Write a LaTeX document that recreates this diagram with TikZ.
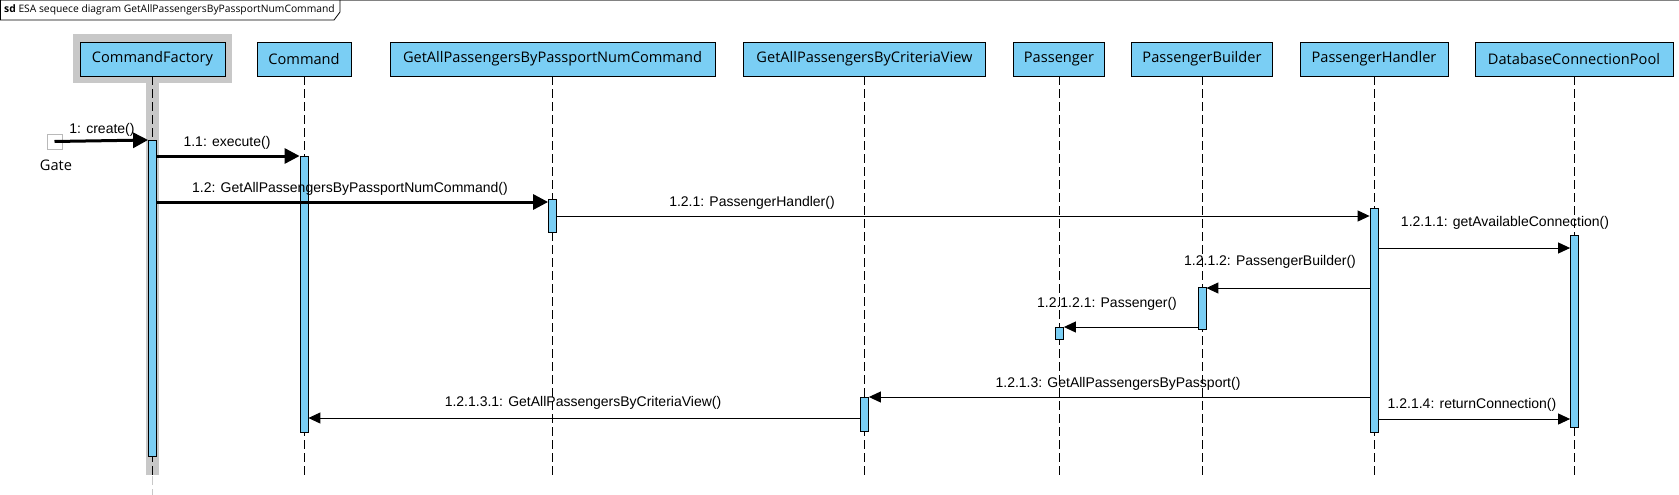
\documentclass[tikz,border=0pt]{standalone}
\usepackage{fontspec}
\setmainfont{Liberation Sans}
\newfontfamily\boxfont{Open Sans}
\usepackage{tikz}
\usetikzlibrary{arrows.meta,calc}
\definecolor{LifeBlue}{RGB}{122,206,244}
\definecolor{Shade}{RGB}{200,200,200}
\definecolor{FrameGrey}{RGB}{130,130,130}
\definecolor{GateGrey}{RGB}{185,185,185}

\begin{document}
\begin{tikzpicture}[x=1pt, y=-1pt,
    lifebox/.style={draw, fill=LifeBlue, line width=0.8pt, minimum height=34pt, inner sep=0pt,
        font=\boxfont\fontsize{14.6}{16}\selectfont},
    actbar/.style={draw, fill=LifeBlue, line width=0.8pt, minimum width=8pt, inner sep=0pt, anchor=north},
    lifeline/.style={line width=0.8pt, dash pattern=on 9pt off 4pt},
    call/.style={line width=3pt, -{Triangle[length=15pt,width=15pt]}},
    msg/.style={line width=1pt, -{Triangle[length=12pt,width=11pt]}},
    msglabel/.style={inner sep=0pt, font=\fontsize{14}{16}\selectfont}]
    %%Background
    \useasboundingbox[fill=white] (0,0) rectangle (1679,495);

    %% Frame
    \draw[FrameGrey, line width=1.2pt] (0,0.6) -- (1679,0.6);
    \draw[line width=0.8pt] (0.4,0) -- (0.4,20) -- (334,20) -- (340,12) -- (340,0);
    \node[anchor=west, inner sep=0pt, font=\boxfont\fontsize{10.3}{12}\selectfont] (title) at (4,10)
        {\textbf{sd} ESA sequece diagram GetAllPassengersByPassportNumCommand};

    %% Selected lifeline shade
    \fill[Shade] (73,34) rectangle (232,83);
    \fill[Shade] (146,83) rectangle (159,475);

    %% Lifeline heads
    \node[lifebox, minimum width=145pt] (cf) at (152.5,59) {CommandFactory};
    \node[lifebox, minimum width=94pt] (cmd) at (304,59) {Command};
    \node[lifebox, minimum width=325pt] (gpn) at (552.5,59) {GetAllPassengersByPassportNumCommand};
    \node[lifebox, minimum width=242pt] (view) at (864.5,59) {GetAllPassengersByCriteriaView};
    \node[lifebox, minimum width=91pt] (pass) at (1059,59) {Passenger};
    \node[lifebox, minimum width=141pt] (pb) at (1202,59) {PassengerBuilder};
    \node[lifebox, minimum width=148pt] (ph) at (1374,59) {PassengerHandler};
    \node[lifebox, minimum width=198pt] (dcp) at (1574,59) {DatabaseConnectionPool};

    %% Lifelines
    \coordinate (lifeend) at (0,476);
    \coordinate (pageend) at (0,495);
    \foreach \n in {cf,cmd,gpn,view,pass,pb,ph,dcp}
        \draw[lifeline] (\n.south) -- (\n.south |- lifeend);
    \draw[lifeline, Shade] (cf.south |- lifeend) -- (cf.south |- pageend);

    %% Activations
    \node[actbar, minimum height=316pt] (cfA) at (152.5,140) {};
    \node[actbar, minimum height=276pt] (cmdA) at (304,156) {};
    \node[actbar, minimum height=33pt] (gpnA) at (552.5,199) {};
    \node[actbar, minimum height=224pt] (phA) at (1374,208) {};
    \node[actbar, minimum height=192pt] (dcpA) at (1574.5,235) {};
    \node[actbar, minimum height=42pt] (pbA) at (1202,287) {};
    \node[actbar, minimum height=12pt] (pA) at (1059.5,327) {};
    \node[actbar, minimum height=34pt] (viewA) at (864.5,397) {};

    %% Gate
    \node[draw=GateGrey, line width=0.8pt, minimum size=15pt, inner sep=0pt] (gate) at (54.5,141.5) {};
    \node[inner sep=0pt, font=\boxfont\fontsize{14.6}{16}\selectfont] (gatelabel) at (56,165) {Gate};

    %% Messages
    \coordinate (y12) at (0,202);
    \coordinate (y121) at (0,216);
    \coordinate (y1211) at (0,248);
    \coordinate (y1212) at (0,288);
    \coordinate (y12131) at (0,418);
    \coordinate (y1214) at (0,419);

    \draw[call] (gate.center) -- (cfA.north west);
    \draw[call] (cfA.east |- cmdA.north) -- (cmdA.north west);
    \draw[call] (cfA.east |- y12) -- (gpnA.west |- y12);
    \draw[msg] (gpnA.east |- y121) -- (phA.west |- y121);
    \draw[msg] (phA.east |- y1211) -- (dcpA.west |- y1211);
    \draw[msg] (phA.west |- y1212) -- (pbA.east |- y1212);
    \draw[msg] (pbA.west |- pA.north) -- (pA.north east);
    \draw[msg] (phA.west |- viewA.north) -- (viewA.north east);
    \draw[msg] (viewA.west |- y12131) -- (cmdA.east |- y12131);
    \draw[msg] (phA.east |- y1214) -- (dcpA.west |- y1214);

    %% Message labels
    \node[msglabel] (l1) at (102,130) {1: create()};
    \node[msglabel] (l11) at (227,143) {1.1: execute()};
    \node[msglabel] (l12) at (350,189) {1.2: GetAllPassengersByPassportNumCommand()};
    \node[msglabel] (l121) at (752,203) {1.2.1: PassengerHandler()};
    \node[msglabel] (l1211) at (1505,223) {1.2.1.1: getAvailableConnection()};
    \node[msglabel] (l1212) at (1270,262) {1.2.1.2: PassengerBuilder()};
    \node[msglabel] (l12121) at (1107,304) {1.2.1.2.1: Passenger()};
    \node[msglabel] (l1213) at (1118,384) {1.2.1.3: GetAllPassengersByPassport()};
    \node[msglabel] (l12131) at (583,403) {1.2.1.3.1: GetAllPassengersByCriteriaView()};
    \node[msglabel] (l1214) at (1472,405) {1.2.1.4: returnConnection()};

\end{tikzpicture}
\end{document}
